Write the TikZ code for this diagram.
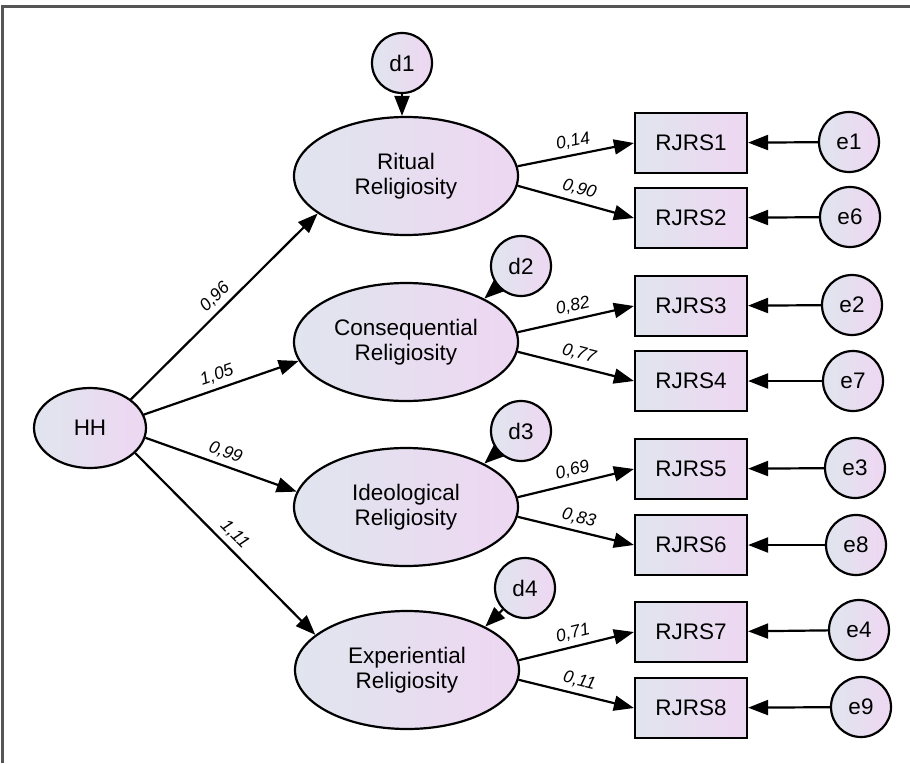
\documentclass[tikz,border=0pt]{standalone}
\usepackage{fontspec}
\setmainfont{Liberation Sans}
\usetikzlibrary{shapes.geometric,arrows.meta}
\definecolor{fillL}{RGB}{224,229,238}
\definecolor{fillR}{RGB}{238,215,242}
\definecolor{framec}{RGB}{85,85,85}
\begin{document}
\begin{tikzpicture}[x=1pt,y=-1pt,
  base/.style={draw=black, line width=2.2pt, left color=fillL, right color=fillR, inner sep=0pt, font=\fontsize{22.5}{25}\selectfont, align=center},
  latent/.style={base, ellipse, minimum width=224pt, minimum height=118pt},
  hhnode/.style={base, ellipse, minimum width=112pt, minimum height=80pt},
  errc/.style={base, circle, minimum size=60pt},
  obsbox/.style={base, rectangle, minimum width=112pt, minimum height=60pt},
  arr/.style={line width=2.2pt, -{Triangle[length=20pt,width=15pt]}},
  coef/.style={font=\fontsize{17.5}{20}\selectfont\itshape, sloped, above, inner sep=5pt},
]
\useasboundingbox (0,0) rectangle (910,763);
\draw[framec, line width=2.5pt] (910,6.5) -- (2.5,6.5) -- (2.5,763);

% latent variables
\node[hhnode] (HH) at (90,428) {HH};
\node[latent] (ritual) at (406,176) {Ritual\\Religiosity};
\node[latent] (cons) at (406,342) {Consequential\\Religiosity};
\node[latent] (ideo) at (406,507) {Ideological\\Religiosity};
\node[latent] (exp) at (407,670) {Experiential\\Religiosity};

% disturbances
\node[errc] (d1) at (402,63) {d1};
\node[errc] (d2) at (521,266) {d2};
\node[errc] (d3) at (521,431) {d3};
\node[errc] (d4) at (525,588) {d4};

% observed
\node[obsbox] (r1) at (691,143) {RJRS1};
\node[obsbox] (r2) at (691,218) {RJRS2};
\node[obsbox] (r3) at (691,306) {RJRS3};
\node[obsbox] (r4) at (691,381) {RJRS4};
\node[obsbox] (r5) at (691,469) {RJRS5};
\node[obsbox] (r6) at (691,545) {RJRS6};
\node[obsbox] (r7) at (691,632) {RJRS7};
\node[obsbox] (r8) at (691,708) {RJRS8};

% errors
\node[errc] (e1) at (849,142) {e1};
\node[errc] (e6) at (850,217) {e6};
\node[errc] (e2) at (852,305) {e2};
\node[errc] (e7) at (853,381) {e7};
\node[errc] (e3) at (855,468) {e3};
\node[errc] (e8) at (856,545) {e8};
\node[errc] (e4) at (859,630) {e4};
\node[errc] (e9) at (861,707) {e9};

% HH paths
\draw[arr] (HH.35) -- node[coef] {0,96} (ritual.203);
\draw[arr] (HH.14) -- node[coef] {1,05} (cons.190);
\draw[arr] (HH.350) -- node[coef] {0,99} (ideo.172);
\draw[arr] (HH.331) -- node[coef] {1,11} (exp.159);

% disturbances
\draw[arr] (d1) -- (d1 |- ritual.north);
\draw[arr] (d2) -- (cons.29);
\draw[arr] (d3) -- (ideo.29);
\draw[arr] (d4) -- (exp.29);

% loadings
\draw[arr] (ritual.5) -- node[coef] {0,14} (r1.west);
\draw[arr] (ritual.-5) -- node[coef] {0,90} (r2.west);
\draw[arr] (cons.5) -- node[coef] {0,82} (r3.west);
\draw[arr] (cons.-5) -- node[coef] {0,77} (r4.west);
\draw[arr] (ideo.5) -- node[coef] {0,69} (r5.west);
\draw[arr] (ideo.-5) -- node[coef] {0,83} (r6.west);
\draw[arr] (exp.5) -- node[coef] {0,71} (r7.west);
\draw[arr] (exp.-5) -- node[coef] {0,11} (r8.west);

% error arrows
\draw[arr] (e1) -- (r1);
\draw[arr] (e6) -- (r2);
\draw[arr] (e2) -- (r3);
\draw[arr] (e7) -- (r4);
\draw[arr] (e3) -- (r5);
\draw[arr] (e8) -- (r6);
\draw[arr] (e4) -- (r7);
\draw[arr] (e9) -- (r8);
\end{tikzpicture}
\end{document}
